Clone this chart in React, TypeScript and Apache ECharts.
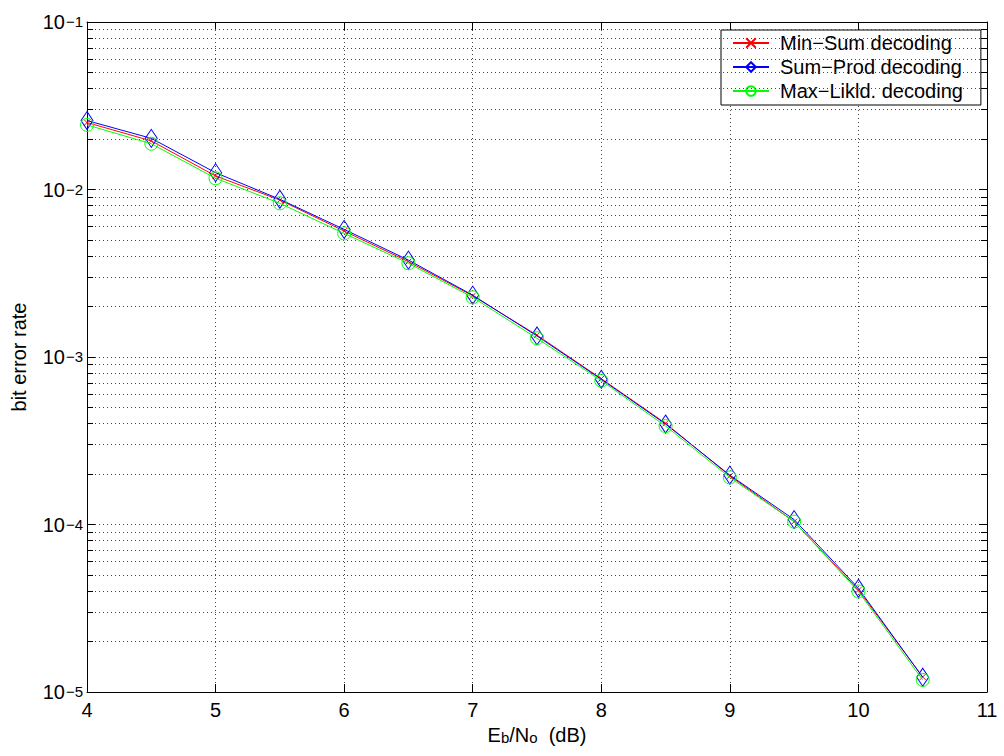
import React, { useEffect, useRef } from "react";
import * as echarts from "echarts";

const ebno = [4, 4.5, 5, 5.5, 6, 6.5, 7, 7.5, 8, 8.5, 9, 9.5, 10, 10.5];
const minSum = [0.0251, 0.0195, 0.01205, 0.00865, 0.00565, 0.00371, 0.00232, 0.00135, 0.000742, 0.000402, 0.000195, 0.000104, 4.06e-5, 1.23e-5];
const sumProd = [0.0258, 0.0202, 0.0126, 0.00874, 0.00578, 0.00379, 0.00234, 0.001335, 0.000736, 0.000398, 0.000197, 0.000107, 4.16e-5, 1.225e-5];
const maxLik = [0.0243, 0.01876, 0.01167, 0.00827, 0.00547, 0.003626, 0.00227, 0.001293, 0.000722, 0.000387, 0.000191, 0.000104, 3.98e-5, 1.18e-5];
const seriesNames = ["Min\u2212Sum decoding", "Sum\u2212Prod decoding", "Max\u2212Likld. decoding"];
const decades = [-5, -4, -3, -2];
const minorMultipliers = [2, 3, 4, 5, 6, 7, 8, 9];
const xMin = 4;
const xMax = 11;

const FONT = "Liberation Sans";
const FS = 20;
const FS_SMALL = 15;

export default function App() {
  const ref = useRef<HTMLDivElement>(null);
  useEffect(() => {
    if (!ref.current) return;
    const chart = echarts.init(ref.current, null, { renderer: "svg" });
    const minorVals: number[] = [];
    decades.forEach((d) => minorMultipliers.forEach((m) => minorVals.push(m * Math.pow(10, d))));
    const dotted = { type: [1, 3] as any, color: "#444", width: 1 };
    const minorTickLen = 6 / (900 / (xMax - xMin));
    const gridLines = minorVals.map((v) => [
      { coord: [xMin, v] },
      { coord: [xMax, v] },
    ]);
    const tickLinesL = minorVals.map((v) => [
      { coord: [xMin, v], lineStyle: { type: "solid", color: "#000" } },
      { coord: [xMin + minorTickLen, v], lineStyle: { type: "solid", color: "#000" } },
    ]);
    const tickLinesR = minorVals.map((v) => [
      { coord: [xMax - minorTickLen, v], lineStyle: { type: "solid", color: "#000" } },
      { coord: [xMax, v], lineStyle: { type: "solid", color: "#000" } },
    ]);
    const mk = (ys: number[]) => ebno.map((x, i) => [x, ys[i]]);
    const option: any = {
      animation: false,
      backgroundColor: "#fff",
      textStyle: { fontFamily: FONT, fontSize: FS },
      grid: { left: 87, top: 22, right: 17, bottom: 64, containLabel: false, outerBoundsMode: "none" },
      legend: {
        data: seriesNames,
        orient: "vertical",
        left: 721,
        top: 30,
        backgroundColor: "#fff",
        borderColor: "#000",
        borderWidth: 1,
        padding: [3, 18, 4, 11],
        itemWidth: 36,
        itemHeight: 12,
        itemGap: 4,
        borderRadius: 0,
        textStyle: { fontSize: FS, lineHeight: 20, color: "#000", fontFamily: FONT, padding: [0, 0, 0, 6] },
      },
      xAxis: [
        {
          type: "value",
          min: xMin,
          max: xMax,
          interval: 1,
          axisLine: { show: true, onZero: false, lineStyle: { color: "#000", width: 1 } },
          axisTick: { show: true, inside: true, length: 8, lineStyle: { color: "#000" } },
          axisLabel: { color: "#000", fontSize: FS, margin: 8, fontFamily: FONT },
          splitLine: { show: true, lineStyle: dotted },
          name: "{n|E}{sub|b}{n|/N}{sub|o}{n|  (dB)}",
          nameLocation: "middle",
          nameGap: 26,
          nameTextStyle: {
            fontSize: FS,
            fontFamily: FONT,
            rich: {
              n: { fontSize: FS, lineHeight: 20, verticalAlign: "top", padding: [0, 0, 11, 0], color: "#000", fontFamily: FONT },
              sub: { fontSize: FS_SMALL, lineHeight: 15, verticalAlign: "bottom", color: "#000", fontFamily: FONT },
            },
          },
        },
        {
          type: "value",
          position: "top",
          min: xMin,
          max: xMax,
          interval: 1,
          axisLine: { show: true, onZero: false, lineStyle: { color: "#000", width: 1 } },
          axisTick: { show: true, inside: true, length: 8, lineStyle: { color: "#000" } },
          axisLabel: { show: false },
          splitLine: { show: false },
        },
      ],
      yAxis: [
        {
          type: "log",
          logBase: 10,
          min: 1e-5,
          max: 1e-1,
          axisLine: { show: true, onZero: false, lineStyle: { color: "#000", width: 1 } },
          axisTick: { show: true, inside: true, length: 8, lineStyle: { color: "#000" } },
          axisLabel: {
            margin: 4,
            fontSize: FS,
            fontFamily: FONT,
            formatter: (v: number) => {
              const e = Math.round(Math.log10(v));
              return "{b|10}{s|\u2212" + Math.abs(e) + "}";
            },
            rich: {
              b: { fontSize: FS, lineHeight: 20, padding: [7, 0, 7, 0], verticalAlign: "middle", color: "#000", fontFamily: FONT },
              s: { fontSize: FS_SMALL, lineHeight: 15, padding: [2, 0, 0, 1], verticalAlign: "top", color: "#000", fontFamily: FONT },
            },
          },
          splitLine: { show: true, lineStyle: dotted },
          minorTick: { show: false },
          name: "bit error rate",
          nameLocation: "middle",
          nameGap: 58,
          nameTextStyle: { fontSize: FS, color: "#000", fontFamily: FONT },
        },
        {
          type: "log",
          logBase: 10,
          position: "right",
          min: 1e-5,
          max: 1e-1,
          axisLine: { show: true, onZero: false, lineStyle: { color: "#000", width: 1 } },
          axisTick: { show: true, inside: true, length: 8, lineStyle: { color: "#000" } },
          axisLabel: { show: false },
          splitLine: { show: false },
        },
      ],
      series: [
        {
          name: "grid-helper",
          type: "line",
          data: [],
          silent: true,
          markLine: {
            silent: true,
            symbol: "none",
            label: { show: false },
            lineStyle: dotted,
            data: [...gridLines, ...tickLinesL, ...tickLinesR],
          },
        },
        {
          name: seriesNames[0],
          type: "line",
          data: mk(minSum),
          symbol: "path://M0,0L10,10M10,0L0,10",
          symbolSize: 6,
          lineStyle: { color: "#ff0000", width: 1 },
          itemStyle: { color: "rgba(0,0,0,0)", borderColor: "#ff0000", borderWidth: 1 },
          z: 3,
        },
        {
          name: seriesNames[1],
          type: "line",
          data: mk(sumProd),
          symbol: "diamond",
          symbolSize: [12, 18],
          lineStyle: { color: "#0000ff", width: 1 },
          itemStyle: { color: "rgba(0,0,0,0)", borderColor: "#0000ff", borderWidth: 1 },
          z: 4,
        },
        {
          name: seriesNames[2],
          type: "line",
          data: mk(maxLik),
          symbol: "circle",
          symbolSize: 13,
          lineStyle: { color: "#00ff00", width: 1 },
          itemStyle: { color: "rgba(0,0,0,0)", borderColor: "#00ff00", borderWidth: 1 },
          z: 5,
        },
      ],
    };
    chart.setOption(option);
    return () => chart.dispose();
  }, []);
  return (
    <div
      ref={ref}
      style={{ position: "absolute", left: 0, top: 0, width: 1004, height: 756, background: "#fff" }}
    />
  );
}
